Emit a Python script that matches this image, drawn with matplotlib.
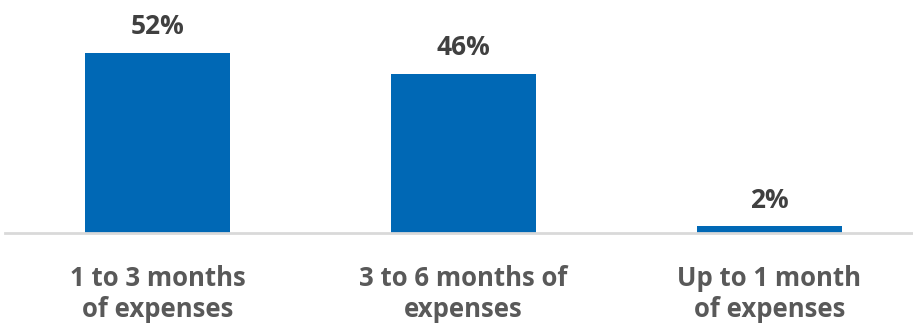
import matplotlib
matplotlib.use("Agg")
import matplotlib.pyplot as plt

categories = ["1 to 3 months\nof expenses", "3 to 6 months of\nexpenses", "Up to 1 month\nof expenses"]
values = [52, 46, 2]
value_labels = ["52%", "46%", "2%"]

plt.rcParams['font.family'] = ['Open Sans', 'DejaVu Sans']

fig = plt.figure(figsize=(9.13, 3.29), dpi=100)
ax = fig.add_axes([5 / 913, 96 / 329, 908 / 913, 207.7 / 329])

x = range(len(values))
bars = ax.bar(x, values, width=0.474, color="#0068b5", zorder=2)

for b, lab in zip(bars, value_labels):
    ax.annotate(lab, (b.get_x() + b.get_width() / 2, b.get_height()),
                xytext=(0, 9), textcoords="offset points",
                ha="center", va="bottom", fontsize=19, fontweight="bold", color="#404040")

ax.set_xlim(-0.5, 2.47)
ax.set_ylim(0, 60)
ax.set_xticks(list(x))
ax.set_xticklabels(categories, fontsize=18.5, fontweight="bold", color="#595959", linespacing=1.2)
ax.tick_params(axis="x", length=0, pad=23)
ax.set_yticks([])
for s in ["top", "right", "left"]:
    ax.spines[s].set_visible(False)
ax.spines["bottom"].set_color("#d9d9d9")
ax.spines["bottom"].set_linewidth(2)

fig.savefig("out.png", dpi=100)
